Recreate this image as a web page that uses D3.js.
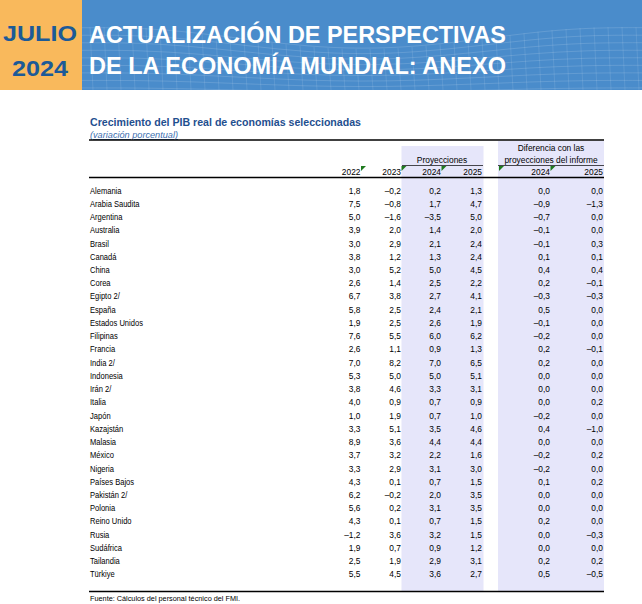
<!DOCTYPE html>
<html>
<head>
<meta charset="utf-8">
<script src="https://cdn.jsdelivr.net/npm/d3@7"></script>
<style>
  html, body { margin: 0; padding: 0; background: #fff; }
  svg { display: block; font-family: "Liberation Sans", Arial, sans-serif; }
</style>
</head>
<body>
<svg id="chart" width="642" height="604"></svg>
<script>
// ---------- DATA ----------
const countries = ["Alemania","Arabia Saudita","Argentina","Australia","Brasil","Canadá","China","Corea","Egipto 2/","España","Estados Unidos","Filipinas","Francia","India 2/","Indonesia","Irán 2/","Italia","Japón","Kazajstán","Malasia","México","Nigeria","Países Bajos","Pakistán 2/","Polonia","Reino Unido","Rusia","Sudáfrica","Tailandia","Türkiye"];
const y2022 = [1.8,7.5,5.0,3.9,3.0,3.8,3.0,2.6,6.7,5.8,1.9,7.6,2.6,7.0,5.3,3.8,4.0,1.0,3.3,8.9,3.7,3.3,4.3,6.2,5.6,4.3,-1.2,1.9,2.5,5.5];
const y2023 = [-0.2,-0.8,-1.6,2.0,2.9,1.2,5.2,1.4,3.8,2.5,2.5,5.5,1.1,8.2,5.0,4.6,0.9,1.9,5.1,3.6,3.2,2.9,0.1,-0.2,0.2,0.1,3.6,0.7,1.9,4.5];
const p2024 = [0.2,1.7,-3.5,1.4,2.1,1.3,5.0,2.5,2.7,2.4,2.6,6.0,0.9,7.0,5.0,3.3,0.7,0.7,3.5,4.4,2.2,3.1,0.7,2.0,3.1,0.7,3.2,0.9,2.9,3.6];
const p2025 = [1.3,4.7,5.0,2.0,2.4,2.4,4.5,2.2,4.1,2.1,1.9,6.2,1.3,6.5,5.1,3.1,0.9,1.0,4.6,4.4,1.6,3.0,1.5,3.5,3.5,1.5,1.5,1.2,3.1,2.7];
const d2024 = [0.0,-0.9,-0.7,-0.1,-0.1,0.1,0.4,0.2,-0.3,0.5,-0.1,-0.2,0.2,0.2,0.0,0.0,0.0,-0.2,0.4,0.0,-0.2,-0.2,0.1,0.0,0.0,0.2,0.0,0.0,0.2,0.5];
const d2025 = [0.0,-1.3,0.0,0.0,0.3,0.1,0.4,-0.1,-0.3,0.0,0.0,0.0,-0.1,0.0,0.0,0.0,0.2,0.0,-1.0,0.0,0.2,0.0,0.2,0.0,0.0,0.0,-0.3,0.0,0.2,-0.5];
const columnKeys = ["y2022","y2023","p2024","p2025","d2024","d2025"];
const columnLabels = ["2022","2023","2024","2025","2024","2025"];
const columnValues = [y2022, y2023, p2024, p2025, d2024, d2025];

// ---------- SETUP ----------
const svg = d3.select("#chart");
const fmt = d3.formatLocale({decimal: ",", thousands: ".", grouping: [3], currency: ["", ""], minus: "\u2013"}).format(".1f");
const darkBlue = "#1f4f8f";
const band = "#e6e6fa";
const fs = 8.4;

// ---------- BANNER ----------
const banner = svg.append("g");
banner.append("rect").attr("x", 0).attr("y", 0).attr("width", 82).attr("height", 90).attr("fill", "#f9b95c");
banner.append("rect").attr("x", 82).attr("y", 0).attr("width", 560).attr("height", 90).attr("fill", "#4a8ccb");

// decorative mesh
const mesh = banner.append("g").attr("stroke", "#ffffff").attr("fill", "none").attr("stroke-width", 0.7);
const meshLine = d3.line().curve(d3.curveBasis);
for (let i = 0; i < 9; i++) {
  const pts = d3.range(0, 11).map(k => {
    const x = 82 + k * 56;
    const base = 38 + i * 6.5;
    const wave = Math.sin(k * 0.7 + 1.2) * (10 - i) * 1.1;
    return [x, base - wave];
  });
  mesh.append("path").attr("d", meshLine(pts)).attr("opacity", 0.2);
}
for (let k = 0; k < 40; k++) {
  const x = 90 + k * 14;
  const top = 38 - Math.sin(((x - 82) / 56) * 0.7 + 1.2) * 11;
  mesh.append("line").attr("x1", x).attr("x2", x + 3).attr("y1", top).attr("y2", 90).attr("opacity", 0.15);
}

banner.append("text").attr("x", 3).attr("y", 41)
  .attr("font-size", 22).attr("font-weight", "bold").attr("fill", "#1c5a97")
  .attr("textLength", 74).attr("lengthAdjust", "spacingAndGlyphs").text("JULIO");
banner.append("text").attr("x", 12).attr("y", 76)
  .attr("font-size", 22).attr("font-weight", "bold").attr("fill", "#1c5a97")
  .attr("textLength", 56).attr("lengthAdjust", "spacingAndGlyphs").text("2024");
banner.append("text").attr("x", 89).attr("y", 43).attr("font-size", 23).attr("font-weight", "bold")
  .attr("fill", "#ffffff").attr("textLength", 417).attr("lengthAdjust", "spacingAndGlyphs").text("ACTUALIZACIÓN DE PERSPECTIVAS");
banner.append("text").attr("x", 89).attr("y", 74).attr("font-size", 23).attr("font-weight", "bold")
  .attr("fill", "#ffffff").attr("textLength", 417).attr("lengthAdjust", "spacingAndGlyphs").text("DE LA ECONOMÍA MUNDIAL: ANEXO");

// ---------- TITLES ----------
svg.append("text").attr("x", 90).attr("y", 126).attr("font-size", 10.8).attr("font-weight", "bold")
  .attr("fill", darkBlue).attr("textLength", 271).attr("lengthAdjust", "spacingAndGlyphs")
  .text("Crecimiento del PIB real de economías seleccionadas");
svg.append("text").attr("x", 90).attr("y", 138).attr("font-size", 8.8).attr("font-style", "italic")
  .attr("fill", "#3d6fb0").attr("text-decoration", "underline")
  .attr("textLength", 88).attr("lengthAdjust", "spacingAndGlyphs")
  .text("(variación porcentual)");

// ---------- SCALES ----------
const yRow = d3.scaleBand().domain(countries).range([184, 581]);
const xCol = d3.scaleOrdinal().domain(columnKeys).range([360.5, 401, 441, 482, 550, 603]);

// shaded groups
svg.append("rect").attr("x", 401.5).attr("y", 146).attr("width", 82).attr("height", 445).attr("fill", band);
svg.append("rect").attr("x", 498).attr("y", 141).attr("width", 106).attr("height", 450).attr("fill", band);

// rules
svg.append("line").attr("x1", 89).attr("x2", 604).attr("y1", 140).attr("y2", 140).attr("stroke", "#000").attr("stroke-width", 1.4);
svg.append("line").attr("x1", 402).attr("x2", 483).attr("y1", 165.5).attr("y2", 165.5).attr("stroke", "#000").attr("stroke-width", 0.7);
svg.append("line").attr("x1", 498).attr("x2", 604).attr("y1", 165.5).attr("y2", 165.5).attr("stroke", "#000").attr("stroke-width", 0.7);
svg.append("line").attr("x1", 89).attr("x2", 604).attr("y1", 177.5).attr("y2", 177.5).attr("stroke", "#000").attr("stroke-width", 1.4);
svg.append("line").attr("x1", 89).attr("x2", 604).attr("y1", 591.5).attr("y2", 591.5).attr("stroke", "#000").attr("stroke-width", 1.4);

// group headers
svg.append("text").attr("x", 442).attr("y", 163).attr("text-anchor", "middle").attr("font-size", fs).text("Proyecciones");
svg.append("text").attr("x", 551).attr("y", 151).attr("text-anchor", "middle").attr("font-size", fs).text("Diferencia con las");
svg.append("text").attr("x", 551).attr("y", 163).attr("text-anchor", "middle").attr("font-size", fs).text("proyecciones del informe");

// column year headers
svg.append("g").selectAll("text").data(columnKeys).join("text")
  .attr("x", d => xCol(d)).attr("y", 174.5).attr("text-anchor", "end").attr("font-size", fs)
  .text((d, i) => columnLabels[i]);

// green cell markers
const markers = [xCol("y2022") + 0.5, xCol("y2023") + 0.5, xCol("p2024") + 0.5, 499, xCol("d2024") + 0.5];
svg.append("g").selectAll("path").data(markers).join("path")
  .attr("d", x => `M${x},166 L${x + 5},166 L${x},171 Z`).attr("fill", "#1f7a1f");

// rows
const rows = svg.append("g").selectAll("g").data(countries).join("g")
  .attr("transform", d => `translate(0,${yRow(d) + yRow.bandwidth() / 2 + 3})`);
rows.append("text").attr("transform", "translate(90,0) scale(0.9,1)").attr("font-size", fs).text(d => d);
columnKeys.forEach((key, ci) => {
  rows.append("text").attr("x", xCol(key)).attr("text-anchor", "end").attr("font-size", fs)
    .text((d, i) => fmt(columnValues[ci][i]));
});

// footnote
svg.append("text").attr("x", 90).attr("y", 600.5).attr("font-size", 7.3).text("Fuente: Cálculos del personal técnico del FMI.");
</script>
</body>
</html>
